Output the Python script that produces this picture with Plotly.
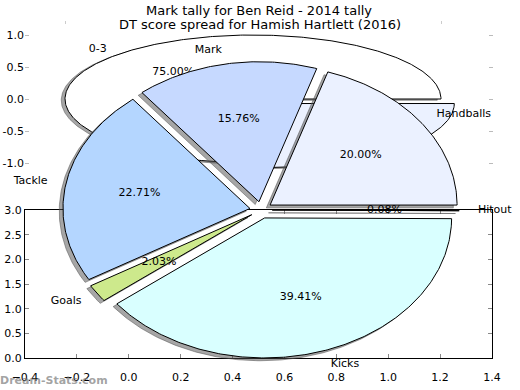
import numpy as np
import plotly.graph_objects as go

# ---------------- data ----------------
a_title = "Mark tally for Ben Reid - 2014 tally"
a_labels = ["0-3", "4-6"]
a_values = [75.0, 25.0]
a_colors = ["#ffffff", "#ebf1ff"]
a_explode = [0.0, 0.1]
a_yticks = [-1.0, -0.5, 0.0, 0.5, 1.0]
a_xticks = [-1.0, 1.0]

b_title = "DT score spread for Hamish Hartlett (2016)"
b_labels = ["Handballs", "Mark", "Tackle", "Goals", "Kicks", "Hitout"]
b_values = [20.00, 15.76, 22.71, 2.03, 39.41, 0.08]
b_colors = ["#ebf1ff", "#c6d9ff", "#b4d6ff", "#cde98c", "#d9ffff", "#f4f4f4"]
b_explode = [0.06, 0.06, 0.06, 0.06, 0.06, 0.06]
b_xticks = [-0.4, -0.2, 0.0, 0.2, 0.4, 0.6, 0.8, 1.0, 1.2, 1.4]
b_yticks = [0.0, 0.5, 1.0, 1.5, 2.0, 2.5, 3.0]

watermark = "Dream-Stats.com"

# ---------------- layout constants (pixels) ----------------
W, H = 520, 390
FONT = "DejaVu Sans"

# pie A geometry
A_CX, A_CY, A_RX, A_RY = 253, 99, 188, 64
A_LEFT, A_RIGHT, A_TOP, A_BOT = 25, 493, 21, 177
# pie B geometry
B_CX, B_CY, B_RX, B_RY = 261, 210, 187, 140
# B tick axes box
BX_L, BX_R, BX_T, BX_B = 25, 492, 210, 358

SHADOW = (-0.02, -0.02)


def wedge_shapes(values, explode):
    v = np.asarray(values, dtype=float)
    frac = v / v.sum()
    ends = np.cumsum(frac) * 2 * np.pi
    starts = ends - frac * 2 * np.pi
    out = []
    for s, e, ex, f in zip(starts, ends, explode, frac):
        mid = (s + e) / 2
        cx, cy = ex * np.cos(mid), ex * np.sin(mid)
        n = max(2, int(np.degrees(e - s) * 1.5) + 2)
        t = np.linspace(s, e, n)
        xs = np.concatenate([[cx], cx + np.cos(t), [cx]])
        ys = np.concatenate([[cy], cy + np.sin(t), [cy]])
        out.append(dict(x=xs, y=ys, mid=mid, cx=cx, cy=cy, pct=f * 100))
    return out


def add_pie(fig, values, labels, colors, explode, xa, ya):
    shapes = wedge_shapes(values, explode)
    # shadows first (below all wedges)
    for sh in shapes:
        fig.add_trace(go.Scatter(
            x=sh["x"] + SHADOW[0], y=sh["y"] + SHADOW[1], mode="lines",
            fill="toself", fillcolor="rgba(77,77,77,0.5)",
            line=dict(color="rgba(77,77,77,0.5)", width=1),
            hoverinfo="skip", showlegend=False, xaxis=xa, yaxis=ya))
    for sh, c in zip(shapes, colors):
        fig.add_trace(go.Scatter(
            x=sh["x"], y=sh["y"], mode="lines", fill="toself", fillcolor=c,
            line=dict(color="black", width=1),
            hoverinfo="skip", showlegend=False, xaxis=xa, yaxis=ya))
    lx, ly, lpos, px, py, ptxt = [], [], [], [], [], []
    for sh, lab in zip(shapes, labels):
        cm, sm = np.cos(sh["mid"]), np.sin(sh["mid"])
        x = sh["cx"] + 1.1 * cm
        y = sh["cy"] + 1.1 * sm
        lx.append(x); ly.append(y)
        lpos.append("middle right" if x > 0 else "middle left")
        px.append(sh["cx"] + 0.6 * cm); py.append(sh["cy"] + 0.6 * sm)
        ptxt.append("%.2f%%" % sh["pct"])
    fig.add_trace(go.Scatter(
        x=lx, y=ly, mode="text", text=labels, textposition=lpos,
        textfont=dict(family=FONT, size=11, color="black"),
        hoverinfo="skip", showlegend=False, xaxis=xa, yaxis=ya))
    fig.add_trace(go.Scatter(
        x=px, y=py, mode="text", text=ptxt, textposition="middle center",
        textfont=dict(family=FONT, size=11, color="black"),
        hoverinfo="skip", showlegend=False, xaxis=xa, yaxis=ya))


fig = go.Figure()

# subplot 1: figure A (pie + its faint tick axes)
add_pie(fig, a_values, a_labels, a_colors, a_explode, "x", "y")
# subplot 2: B tick axes (empty data holder)
fig.add_trace(go.Scatter(x=[None], y=[None], mode="markers", showlegend=False,
                         hoverinfo="skip", xaxis="x2", yaxis="y2"))
# subplot 3: pie B on top
add_pie(fig, b_values, b_labels, b_colors, b_explode, "x3", "y3")

axfont = dict(family=FONT, size=11, color="black")

fig.update_layout(
    template="none",
    width=W, height=H, margin=dict(l=0, r=0, t=0, b=0, pad=0),
    paper_bgcolor="white", plot_bgcolor="rgba(0,0,0,0)",
    showlegend=False,
    xaxis=dict(domain=[A_LEFT / W, A_RIGHT / W],
               range=[(A_LEFT - A_CX) / A_RX, (A_RIGHT - A_CX) / A_RX],
               side="top", tickvals=a_xticks, showticklabels=False,
               ticks="inside", ticklen=3, tickcolor="#cccccc",
               showline=False, showgrid=False, zeroline=False, anchor="y",
               automargin=False),
    yaxis=dict(domain=[(H - A_BOT) / H, (H - A_TOP) / H],
               range=[(A_CY - A_BOT) / A_RY, (A_CY - A_TOP) / A_RY],
               tickvals=a_yticks, ticktext=["%.1f" % v for v in a_yticks],
               ticks="inside", ticklen=4, tickcolor="#bbbbbb", mirror="ticks",
               tickfont=axfont, showline=False, showgrid=False,
               zeroline=False, anchor="x", automargin=False),
    xaxis2=dict(domain=[BX_L / W, BX_R / W], range=[-0.4, 1.4],
                tickvals=b_xticks, tickformat=".1f",
                ticks="inside", ticklen=4, tickcolor="#888888",
                ticklabelstandoff=9,
                showline=True, linecolor="black", linewidth=1, mirror="ticks",
                tickfont=axfont, showgrid=False, zeroline=False, anchor="y2",
                automargin=False),
    yaxis2=dict(domain=[(H - BX_B) / H, (H - BX_T) / H], range=[0, 3],
                tickvals=b_yticks, tickformat=".1f",
                ticks="inside", ticklen=4, tickcolor="#888888",
                showline=True, linecolor="black", linewidth=1, mirror="ticks",
                tickfont=axfont, showgrid=False, zeroline=False, anchor="x2",
                automargin=False),
    xaxis3=dict(domain=[0, 1], range=[-B_CX / B_RX, (W - B_CX) / B_RX],
                visible=False, anchor="y3", automargin=False),
    yaxis3=dict(domain=[0, 1], range=[(B_CY - H) / B_RY, B_CY / B_RY],
                visible=False, anchor="x3", automargin=False),
    annotations=[
        dict(text=a_title, xref="paper", yref="paper", x=259 / W, y=1 - 10 / H,
             showarrow=False, font=dict(family=FONT, size=13, color="black"),
             xanchor="center", yanchor="middle"),
        dict(text=b_title, xref="paper", yref="paper", x=260 / W, y=1 - 25 / H,
             showarrow=False, font=dict(family=FONT, size=13, color="black"),
             xanchor="center", yanchor="middle"),
        dict(text="<b>" + watermark + "</b>", xref="paper", yref="paper",
             x=-2 / W, y=1 - 380 / H, showarrow=False,
             font=dict(family=FONT, size=11, color="rgba(110,110,110,0.65)"),
             xanchor="left", yanchor="middle"),
    ],
)

fig.write_html(
    "out.html",
    config={"displayModeBar": False, "staticPlot": True},
    post_script="document.body.style.margin='0';document.body.style.overflow='hidden';",
)
